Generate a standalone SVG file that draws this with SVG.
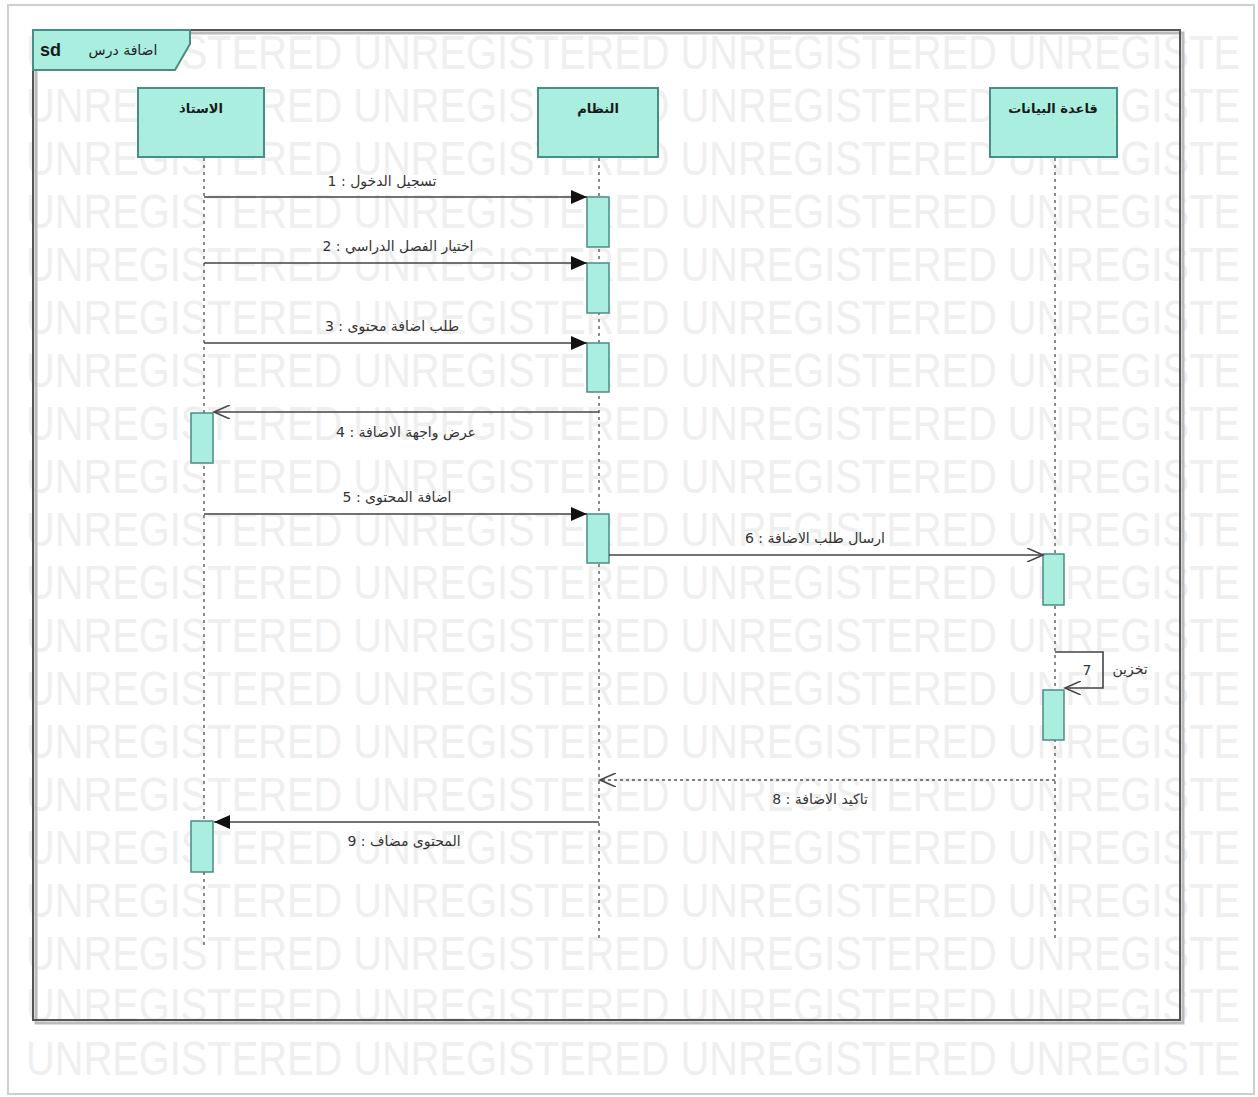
<svg xmlns="http://www.w3.org/2000/svg" width="1258" height="1097" viewBox="0 0 1258 1097">
<style>
.wm{font-family:"Liberation Sans","DejaVu Sans",sans-serif;font-size:48px;fill:#efefef}
.node{fill:#a9eedf;stroke:#4b8c84;stroke-width:2}
.act{fill:#a9eedf;stroke:#4b8c84;stroke-width:1.5}
.title{font-family:"DejaVu Sans",sans-serif;font-size:13px;font-weight:bold;fill:#1a1a1a;text-anchor:middle}
.lbl{font-family:"DejaVu Sans","Liberation Sans",sans-serif;font-size:14px;fill:#333;text-anchor:middle}
.life{stroke:#666;stroke-width:1.5;stroke-dasharray:3,4;fill:none}
.msg{stroke:#444;stroke-width:1.6;fill:none}
.ret{stroke:#555;stroke-width:1.5;stroke-dasharray:3,3;fill:none}
</style>
<defs>
<marker id="fill" markerUnits="userSpaceOnUse" markerWidth="18" markerHeight="14" refX="16" refY="7" orient="auto">
<path d="M0,0 L16,7 L0,14 z" fill="#111"/>
</marker>
<marker id="open" markerUnits="userSpaceOnUse" markerWidth="18" markerHeight="14" refX="16" refY="7" orient="auto">
<path d="M0,0 L16,7 L0,14" fill="none" stroke="#444" stroke-width="1.6"/>
</marker>
</defs>
<rect x="0" y="0" width="1258" height="1097" fill="#fff"/>
<rect x="8" y="5" width="1246" height="1089" fill="none" stroke="#cfcfcf" stroke-width="2"/>
<g id="watermark">
<text class="wm" x="26" y="69" textLength="1214" lengthAdjust="spacingAndGlyphs">UNREGISTERED UNREGISTERED UNREGISTERED UNREGISTE</text>
<text class="wm" x="26" y="122" textLength="1214" lengthAdjust="spacingAndGlyphs">UNREGISTERED UNREGISTERED UNREGISTERED UNREGISTE</text>
<text class="wm" x="26" y="175" textLength="1214" lengthAdjust="spacingAndGlyphs">UNREGISTERED UNREGISTERED UNREGISTERED UNREGISTE</text>
<text class="wm" x="26" y="228" textLength="1214" lengthAdjust="spacingAndGlyphs">UNREGISTERED UNREGISTERED UNREGISTERED UNREGISTE</text>
<text class="wm" x="26" y="281" textLength="1214" lengthAdjust="spacingAndGlyphs">UNREGISTERED UNREGISTERED UNREGISTERED UNREGISTE</text>
<text class="wm" x="26" y="334" textLength="1214" lengthAdjust="spacingAndGlyphs">UNREGISTERED UNREGISTERED UNREGISTERED UNREGISTE</text>
<text class="wm" x="26" y="387" textLength="1214" lengthAdjust="spacingAndGlyphs">UNREGISTERED UNREGISTERED UNREGISTERED UNREGISTE</text>
<text class="wm" x="26" y="440" textLength="1214" lengthAdjust="spacingAndGlyphs">UNREGISTERED UNREGISTERED UNREGISTERED UNREGISTE</text>
<text class="wm" x="26" y="493" textLength="1214" lengthAdjust="spacingAndGlyphs">UNREGISTERED UNREGISTERED UNREGISTERED UNREGISTE</text>
<text class="wm" x="26" y="546" textLength="1214" lengthAdjust="spacingAndGlyphs">UNREGISTERED UNREGISTERED UNREGISTERED UNREGISTE</text>
<text class="wm" x="26" y="599" textLength="1214" lengthAdjust="spacingAndGlyphs">UNREGISTERED UNREGISTERED UNREGISTERED UNREGISTE</text>
<text class="wm" x="26" y="652" textLength="1214" lengthAdjust="spacingAndGlyphs">UNREGISTERED UNREGISTERED UNREGISTERED UNREGISTE</text>
<text class="wm" x="26" y="705" textLength="1214" lengthAdjust="spacingAndGlyphs">UNREGISTERED UNREGISTERED UNREGISTERED UNREGISTE</text>
<text class="wm" x="26" y="758" textLength="1214" lengthAdjust="spacingAndGlyphs">UNREGISTERED UNREGISTERED UNREGISTERED UNREGISTE</text>
<text class="wm" x="26" y="811" textLength="1214" lengthAdjust="spacingAndGlyphs">UNREGISTERED UNREGISTERED UNREGISTERED UNREGISTE</text>
<text class="wm" x="26" y="864" textLength="1214" lengthAdjust="spacingAndGlyphs">UNREGISTERED UNREGISTERED UNREGISTERED UNREGISTE</text>
<text class="wm" x="26" y="917" textLength="1214" lengthAdjust="spacingAndGlyphs">UNREGISTERED UNREGISTERED UNREGISTERED UNREGISTE</text>
<text class="wm" x="26" y="970" textLength="1214" lengthAdjust="spacingAndGlyphs">UNREGISTERED UNREGISTERED UNREGISTERED UNREGISTE</text>
<text class="wm" x="26" y="1022" textLength="1214" lengthAdjust="spacingAndGlyphs">UNREGISTERED UNREGISTERED UNREGISTERED UNREGISTE</text>
<text class="wm" x="26" y="1075" textLength="1214" lengthAdjust="spacingAndGlyphs">UNREGISTERED UNREGISTERED UNREGISTERED UNREGISTE</text>
</g>
<g id="frame">
<rect x="36" y="33" width="1147" height="990" fill="none" stroke="#bbb" stroke-width="3"/>
<rect x="33" y="30" width="1147" height="990" fill="none" stroke="#555" stroke-width="2"/>
<path d="M33,30 L190,30 L190,44 L175,70 L33,70 z" fill="#a9eedf" stroke="#4b8c84" stroke-width="2"/>
<text x="40" y="56" font-family="Liberation Sans,sans-serif" font-size="18" font-weight="bold" fill="#1a1a1a">sd</text>
<text x="123" y="55" font-family="DejaVu Sans,sans-serif" font-size="14" fill="#222" text-anchor="middle">اضافة درس</text>
</g>
<g id="lifelines">
<line class="life" x1="204" y1="158" x2="204" y2="948"/>
<line class="life" x1="599" y1="158" x2="599" y2="938"/>
<line class="life" x1="1055" y1="158" x2="1055" y2="938"/>
</g>
<g id="node-teacher">
<rect class="node" x="138" y="88" width="126" height="69"/>
<text class="title" x="201" y="113">الاستاذ</text>
</g>
<g id="node-system">
<rect class="node" x="538" y="88" width="120" height="69"/>
<text class="title" x="598" y="113">النظام</text>
</g>
<g id="node-db">
<rect class="node" x="990" y="88" width="127" height="69"/>
<text class="title" x="1053" y="113">قاعدة البيانات</text>
</g>
<g id="activations">
<rect class="act" x="587" y="197" width="22" height="50"/>
<rect class="act" x="587" y="263" width="22" height="50"/>
<rect class="act" x="587" y="343" width="22" height="49"/>
<rect class="act" x="191" y="413" width="22" height="50"/>
<rect class="act" x="587" y="514" width="22" height="49"/>
<rect class="act" x="1043" y="554" width="21" height="51"/>
<rect class="act" x="1043" y="690" width="21" height="50"/>
<rect class="act" x="191" y="821" width="22" height="51"/>
</g>
<g id="connectors">
<line class="msg" x1="204" y1="197" x2="587" y2="197" marker-end="url(#fill)"/>
<line class="msg" x1="204" y1="263" x2="587" y2="263" marker-end="url(#fill)"/>
<line class="msg" x1="204" y1="343" x2="587" y2="343" marker-end="url(#fill)"/>
<line class="msg" x1="599" y1="412" x2="214" y2="412" marker-end="url(#open)"/>
<line class="msg" x1="204" y1="514" x2="587" y2="514" marker-end="url(#fill)"/>
<line class="msg" x1="609" y1="555" x2="1043" y2="555" marker-end="url(#open)"/>
<polyline class="msg" points="1055,652 1103,652 1103,688 1065,688" marker-end="url(#open)"/>
<line class="ret" x1="1055" y1="780" x2="600" y2="780" marker-end="url(#open)"/>
<line class="msg" x1="599" y1="822" x2="214" y2="822" marker-end="url(#fill)"/>
</g>
<g id="labels">
<text class="lbl" x="382" y="186">1 : تسجيل الدخول</text>
<text class="lbl" x="398" y="251">2 : اختيار الفصل الدراسي</text>
<text class="lbl" x="392" y="331">3 : طلب اضافة محتوى</text>
<text class="lbl" x="406" y="437">4 : عرض واجهة الاضافة</text>
<text class="lbl" x="397" y="502">5 : اضافة المحتوى</text>
<text class="lbl" x="815" y="543">6 : ارسال طلب الاضافة</text>
<text class="lbl" x="1087" y="675">7</text>
<text class="lbl" x="1130" y="674">تخزين</text>
<text class="lbl" x="820" y="804">8 : تاكيد الاضافة</text>
<text class="lbl" x="404" y="846">9 : المحتوى مضاف</text>
</g>
</svg>
